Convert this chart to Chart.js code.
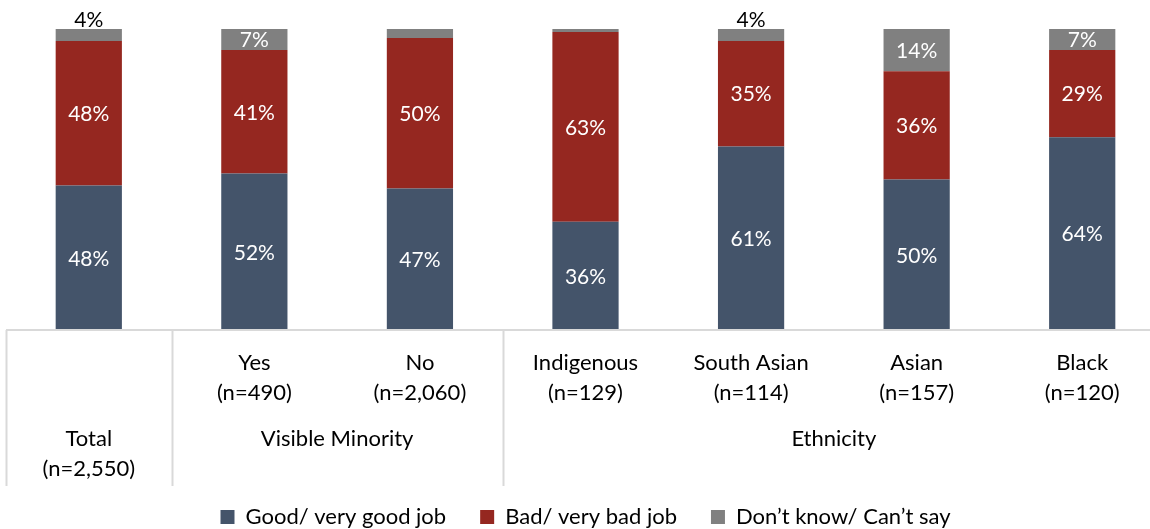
<!DOCTYPE html>
<html>
<head>
<meta charset="utf-8">
<script src="https://cdn.jsdelivr.net/npm/chart.js@4/dist/chart.umd.min.js"></script>
<style>
  html, body { margin: 0; padding: 0; background: #fff; overflow: hidden; }
  #wrap { width: 1170px; height: 538px; position: relative; }
</style>
</head>
<body>
<div id="wrap"><canvas id="myChart"></canvas></div>
<script>
const categoryNames = ['Total', 'Yes', 'No', 'Indigenous', 'South Asian', 'Asian', 'Black'];
const sampleSizes = ['(n=2,550)', '(n=490)', '(n=2,060)', '(n=129)', '(n=114)', '(n=157)', '(n=120)'];
const groupNames = ['Visible Minority', 'Ethnicity'];
const groupFirst = [1, 3];
const groupLast = [2, 6];

const goodJob = [48, 52, 47, 36, 61, 50, 64];
const badJob = [48, 41, 50, 63, 35, 36, 29];
const dontKnow = [4, 7, 3, 1, 4, 14, 7];

const FONT = 'Lato';
const gridColor = '#d9d9d9';

const chartContext = document.getElementById('myChart').getContext('2d');

// value labels inside the bars (small grey ones go above the bar)
const barLabels = {
  id: 'barLabels',
  afterDatasetsDraw(chart) {
    const ctx = chart.ctx;
    ctx.save();
    ctx.font = '21px ' + FONT;
    ctx.textAlign = 'center';
    chart.data.datasets.forEach((ds, di) => {
      const meta = chart.getDatasetMeta(di);
      meta.data.forEach((bar, i) => {
        const v = ds.data[i];
        if (v < 4) return;
        if (di === 2 && v < 5) {
          ctx.fillStyle = '#000';
          ctx.textBaseline = 'bottom';
          ctx.fillText(v + '%', bar.x, bar.y + 2);
        } else {
          ctx.fillStyle = '#fff';
          ctx.textBaseline = 'middle';
          ctx.fillText(v + '%', bar.x, (bar.y + bar.base) / 2 + 1);
        }
      });
    });
    ctx.restore();
  }
};

// two-level category axis with separator lines
const groupAxis = {
  id: 'groupAxis',
  afterDraw(chart) {
    const ctx = chart.ctx;
    const x = chart.scales.x;
    const area = chart.chartArea;
    const y0 = area.bottom;
    const edge = i => i === 0 ? area.left : (x.getPixelForValue(i - 1) + x.getPixelForValue(i)) / 2;
    ctx.save();
    ctx.strokeStyle = gridColor;
    ctx.lineWidth = 2;
    ctx.beginPath();
    ctx.moveTo(area.left, y0);
    ctx.lineTo(chart.width, y0);
    [0, groupFirst[0], groupFirst[1]].forEach(i => {
      const px = Math.round(edge(i)) + 0.5;
      ctx.moveTo(px, y0);
      ctx.lineTo(px, y0 + 156);
    });
    ctx.stroke();

    ctx.fillStyle = '#000';
    ctx.font = '22px ' + FONT;
    ctx.textAlign = 'center';
    ctx.textBaseline = 'middle';
    categoryNames.forEach((name, i) => {
      const px = x.getPixelForValue(i);
      if (i === 0) {
        ctx.fillText(name, px, y0 + 109);
        ctx.fillText(sampleSizes[i], px, y0 + 139);
      } else {
        ctx.fillText(name, px, y0 + 33);
        ctx.fillText(sampleSizes[i], px, y0 + 63);
      }
    });
    groupNames.forEach((g, k) => {
      const px = (x.getPixelForValue(groupFirst[k]) + x.getPixelForValue(groupLast[k])) / 2;
      ctx.fillText(g, px, y0 + 109);
    });
    ctx.restore();
  }
};

const stockChart = new Chart(chartContext, {
  type: 'bar',
  data: {
    labels: categoryNames,
    datasets: [
      { label: 'Good/ very good job', data: goodJob, backgroundColor: '#44546a' },
      { label: 'Bad/ very bad job', data: badJob, backgroundColor: '#952720' },
      { label: 'Don\u2019t know/ Can\u2019t say', data: dontKnow, backgroundColor: '#808080' }
    ]
  },
  options: {
    responsive: true,
    maintainAspectRatio: false,
    animation: false,
    layout: { padding: { top: 29, left: 6, right: 5, bottom: 0 } },
    datasets: { bar: { categoryPercentage: 1, barPercentage: 0.4 } },
    scales: {
      x: {
        stacked: true,
        grid: { display: false },
        border: { display: false },
        ticks: { display: false },
        afterFit: scale => { scale.height = 142; }
      },
      y: { stacked: true, min: 0, max: 100, display: false }
    },
    plugins: {
      legend: {
        position: 'bottom',
        labels: {
          boxWidth: 14,
          boxHeight: 14,
          padding: 34,
          color: '#000',
          font: { family: FONT, size: 22 }
        }
      },
      tooltip: { enabled: false }
    }
  },
  plugins: [barLabels, groupAxis]
});
</script>
</body>
</html>
